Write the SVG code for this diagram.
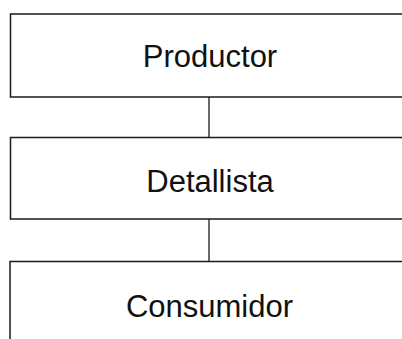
<svg xmlns="http://www.w3.org/2000/svg" width="402" height="339" viewBox="0 0 402 339">
<style>
.box{fill:#fff;stroke:#1a1a1a;stroke-width:1.5}
.lbl{font-family:"Liberation Sans",Arial,sans-serif;font-size:31px;fill:#111;text-anchor:middle}
.conn{stroke:#1a1a1a;stroke-width:1.3;fill:none}
</style>
<rect width="402" height="339" fill="#fff"/>
<g id="connectors">
<line class="conn" x1="209" y1="97" x2="209" y2="137.5"/>
<line class="conn" x1="209" y1="219" x2="209" y2="261.5"/>
</g>
<g id="productor">
<rect class="box" x="10.5" y="14" width="400" height="83"/>
<text class="lbl" x="210" y="67">Productor</text>
</g>
<g id="detallista">
<rect class="box" x="10.5" y="137.5" width="400" height="81.5"/>
<text class="lbl" x="210" y="192">Detallista</text>
</g>
<g id="consumidor">
<rect class="box" x="10" y="261.5" width="400" height="100"/>
<text class="lbl" x="209.5" y="317">Consumidor</text>
</g>
</svg>
